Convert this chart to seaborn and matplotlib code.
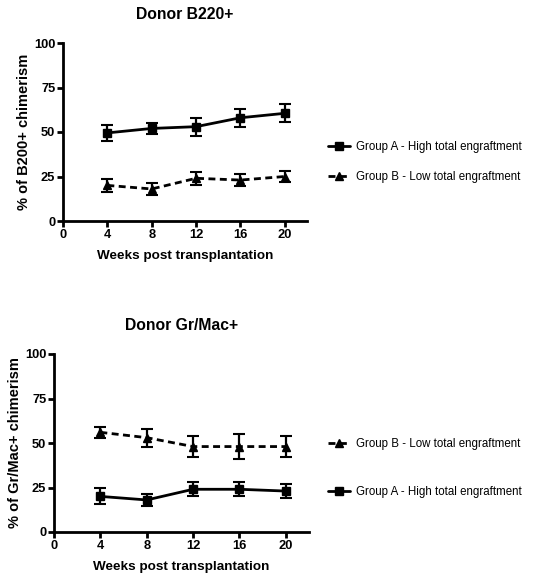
import matplotlib
matplotlib.use("Agg")
import matplotlib.pyplot as plt
import seaborn as sns
import pandas as pd
from matplotlib.lines import Line2D

weeks = [4, 8, 12, 16, 20]
# Donor B220+
b220_groupA = [49.5, 52, 53, 58, 60.5]
b220_groupA_err = [4.5, 3, 5, 5, 5]
b220_groupB = [20, 18, 24, 23, 25]
b220_groupB_err = [3.5, 3.5, 3.5, 3.5, 3]
# Donor Gr/Mac+
grmac_groupB = [56, 53, 48, 48, 48]
grmac_groupB_err = [3, 5, 6, 7, 6]
grmac_groupA = [20, 18, 24, 24, 23]
grmac_groupA_err = [4.5, 3.5, 4, 4, 4]

labelA = "Group A - High total engraftment"
labelB = "Group B - Low total engraftment"

sns.set_style("ticks")
plt.rcParams['font.family'] = ['Liberation Sans', 'DejaVu Sans']
plt.rcParams['text.color'] = 'black'
plt.rcParams['axes.labelcolor'] = 'black'
plt.rcParams['xtick.color'] = 'black'
plt.rcParams['ytick.color'] = 'black'

DASH = (2.5, 1.6)

fig = plt.figure(figsize=(5.36, 5.76), dpi=100)
W, H = 536, 576

def add_ax(l, r, t, b):
    return fig.add_axes([l / W, 1 - b / H, (r - l) / W, (b - t) / H])

ax1 = add_ax(63, 307, 43, 221)
ax2 = add_ax(54, 309, 354, 532)

def draw(ax, y, err, dashed, marker, label):
    df = pd.DataFrame({"week": weeks, "val": y})
    kw = dict(dashes=DASH) if dashed else {}
    sns.lineplot(data=df, x="week", y="val", ax=ax, color="black", lw=2,
                 marker=marker, markersize=6, markeredgecolor="black",
                 markeredgewidth=1, legend=False, errorbar=None, **kw)
    ax.errorbar(weeks, y, yerr=err, fmt="none", ecolor="black", elinewidth=1.6,
                capsize=4, capthick=1.5)

def style(ax, title, ylabel):
    ax.set_xlim(0, 22)
    ax.set_ylim(0, 100)
    ax.set_xticks([0, 4, 8, 12, 16, 20])
    ax.set_yticks([0, 25, 50, 75, 100])
    sns.despine(ax=ax)
    for s in ["left", "bottom"]:
        ax.spines[s].set_linewidth(2)
        ax.spines[s].set_color("black")
    ax.tick_params(axis="both", width=2, length=4, color="black", labelsize=9.3,
                   pad=1.5, labelcolor="black")
    for lab in ax.get_xticklabels() + ax.get_yticklabels():
        lab.set_fontweight("bold")
    ax.set_xlabel("Weeks post transplantation", fontsize=9.7, fontweight="bold", labelpad=7)
    ax.set_ylabel(ylabel, fontsize=10.5, fontweight="bold", labelpad=2)
    ax.set_title(title, fontsize=11.3, fontweight="bold", pad=17)

draw(ax1, b220_groupA, b220_groupA_err, False, "s", labelA)
draw(ax1, b220_groupB, b220_groupB_err, True, "^", labelB)
style(ax1, "Donor B220+", "% of B200+ chimerism")

draw(ax2, grmac_groupB, grmac_groupB_err, True, "^", labelB)
draw(ax2, grmac_groupA, grmac_groupA_err, False, "s", labelA)
style(ax2, "Donor Gr/Mac+", "% of Gr/Mac+ chimerism")

hA = Line2D([], [], color="black", lw=2, ls="-", marker="s", markersize=6)
hB = Line2D([], [], color="black", lw=2, dashes=DASH, marker="^", markersize=6)

def entry(handle, label, ypix):
    fig.legend([handle], [label], loc="center left",
               bbox_to_anchor=(328 / W, 1 - ypix / H), frameon=False, fontsize=8.3,
               handlelength=1.95, handletextpad=0.45, borderpad=0, borderaxespad=0)

entry(hA, labelA, 147)
entry(hB, labelB, 177)
entry(hB, labelB, 444)
entry(hA, labelA, 492)

fig.savefig("out.png", dpi=100)
